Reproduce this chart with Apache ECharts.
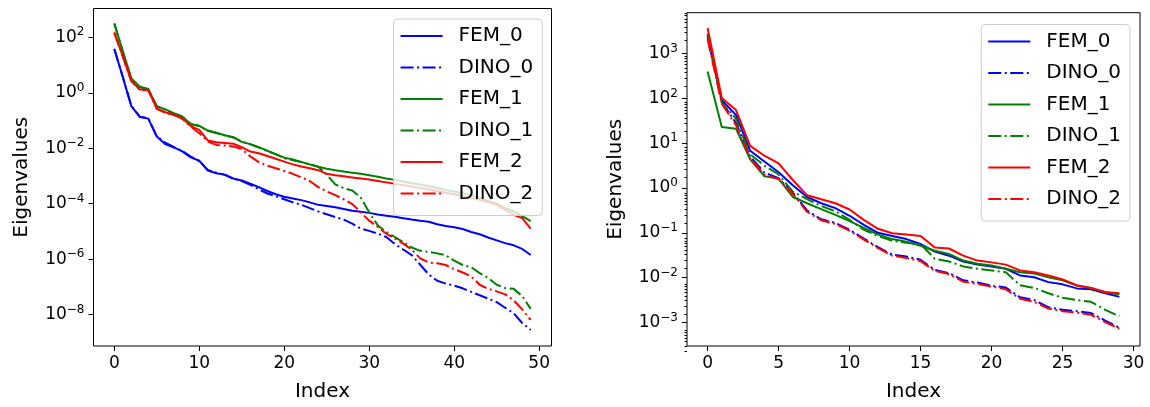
<!DOCTYPE html>
<html><head><meta charset="utf-8">
<script src="https://cdn.jsdelivr.net/npm/echarts@6/dist/echarts.min.js"></script>
<style>html,body{margin:0;padding:0;background:#fff}#c{width:1150px;height:407px}</style>
</head><body><div id="c"></div>
<script>
// ---------- data (left panel, index 0..49) ----------
const L_FEM_0 = [39, 3.63, 0.331, 0.135, 0.117, 2.63e-2, 1.41e-2, 1.07e-2, 7.76e-3, 4.68e-3,
  3.55e-3, 1.58e-3, 1.26e-3, 1.12e-3, 8.13e-4, 6.92e-4, 5.25e-4, 3.98e-4, 2.88e-4, 2.19e-4,
  1.78e-4, 1.55e-4, 1.35e-4, 1.12e-4, 9.12e-5, 8.32e-5, 7.41e-5, 6.46e-5, 5.62e-5, 5.13e-5,
  4.68e-5, 4.07e-5, 3.72e-5, 3.39e-5, 3.02e-5, 2.69e-5, 2.45e-5, 2.24e-5, 1.82e-5, 1.58e-5,
  1.41e-5, 1.23e-5, 9.55e-6, 7.94e-6, 6.03e-6, 4.79e-6, 3.80e-6, 3.16e-6, 2.34e-6, 1.41e-6];
const L_DINO_0 = [37.2, 3.80, 0.339, 0.138, 0.120, 2.69e-2, 1.58e-2, 1.12e-2, 7.94e-3, 5.01e-3,
  3.47e-3, 1.66e-3, 1.32e-3, 1.10e-3, 7.94e-4, 6.61e-4, 4.79e-4, 3.31e-4, 2.34e-4, 1.86e-4,
  1.45e-4, 1.12e-4, 9.12e-5, 6.92e-5, 5.25e-5, 4.17e-5, 3.31e-5, 2.69e-5, 1.91e-5, 1.26e-5,
  1.05e-5, 8.32e-6, 6.31e-6, 3.55e-6, 2.24e-6, 1.41e-6, 6.31e-7, 2.82e-7, 1.66e-7, 1.32e-7,
  1.12e-7, 8.91e-8, 6.61e-8, 5.01e-8, 3.80e-8, 2.82e-8, 1.78e-8, 1.12e-8, 5.01e-9, 2.82e-9];
const L_FEM_1 = [324, 31.6, 3.31, 1.66, 1.38, 0.331, 0.251, 0.186, 0.141, 7.24e-2,
  6.46e-2, 4.37e-2, 3.63e-2, 2.95e-2, 2.51e-2, 1.70e-2, 1.41e-2, 1.10e-2, 8.13e-3, 6.17e-3,
  4.57e-3, 3.98e-3, 3.24e-3, 2.63e-3, 2.14e-3, 1.82e-3, 1.62e-3, 1.45e-3, 1.32e-3, 1.20e-3,
  1.07e-3, 9.33e-4, 8.13e-4, 7.24e-4, 6.31e-4, 5.50e-4, 4.90e-4, 4.27e-4, 3.72e-4, 3.16e-4,
  2.75e-4, 2.40e-4, 2.04e-4, 1.62e-4, 1.26e-4, 1.00e-4, 7.08e-5, 5.25e-5, 3.55e-5, 2.34e-5];
const L_DINO_1 = [309, 30.2, 3.16, 1.58, 1.35, 0.324, 0.245, 0.178, 0.138, 7.59e-2,
  6.31e-2, 4.27e-2, 3.55e-2, 2.88e-2, 2.45e-2, 1.74e-2, 1.38e-2, 1.07e-2, 7.94e-3, 6.03e-3,
  4.37e-3, 3.72e-3, 3.16e-3, 2.63e-3, 2.14e-3, 1.12e-3, 5.01e-4, 3.63e-4, 3.02e-4, 1.66e-4,
  4.90e-5, 1.66e-5, 9.55e-6, 6.31e-6, 4.17e-6, 2.63e-6, 2.00e-6, 1.82e-6, 1.62e-6, 1.38e-6,
  8.91e-7, 6.17e-7, 5.13e-7, 3.16e-7, 2.09e-7, 1.20e-7, 9.12e-8, 8.51e-8, 4.68e-8, 1.62e-8];
const L_FEM_2 = [151, 20.9, 2.69, 1.32, 1.26, 0.269, 0.200, 0.158, 0.120, 6.31e-2,
  4.57e-2, 1.91e-2, 1.66e-2, 1.55e-2, 1.45e-2, 1.10e-2, 7.59e-3, 6.61e-3, 5.25e-3, 4.17e-3,
  3.31e-3, 2.63e-3, 2.19e-3, 1.91e-3, 1.62e-3, 1.20e-3, 1.07e-3, 9.77e-4, 8.91e-4, 8.13e-4,
  7.41e-4, 6.61e-4, 5.89e-4, 5.25e-4, 4.68e-4, 4.17e-4, 3.72e-4, 3.31e-4, 2.88e-4, 2.51e-4,
  2.19e-4, 1.91e-4, 1.62e-4, 1.38e-4, 1.15e-4, 9.12e-5, 6.03e-5, 3.98e-5, 3.02e-5, 1.26e-5];
const L_DINO_2 = [145, 20.0, 2.63, 1.29, 1.23, 0.263, 0.191, 0.166, 0.115, 6.03e-2,
  3.47e-2, 1.74e-2, 1.32e-2, 1.26e-2, 1.15e-2, 9.33e-3, 5.13e-3, 3.16e-3, 2.34e-3, 1.91e-3,
  1.51e-3, 1.20e-3, 8.91e-4, 6.61e-4, 3.98e-4, 2.75e-4, 2.04e-4, 1.45e-4, 9.77e-5, 4.90e-5,
  2.45e-5, 1.45e-5, 8.32e-6, 5.50e-6, 3.63e-6, 2.24e-6, 1.07e-6, 7.59e-7, 7.08e-7, 6.17e-7,
  4.37e-7, 3.31e-7, 2.40e-7, 1.20e-7, 8.51e-8, 6.92e-8, 5.37e-8, 3.31e-8, 1.55e-8, 6.46e-9];

// ---------- data (right panel, index 0..29) ----------
const R_FEM_0 = [2630, 91.2, 42.7, 6.76, 3.89, 2.24, 1.15, 0.631, 0.457, 0.355,
  0.240, 0.151, 0.100, 8.51e-2, 7.24e-2, 5.62e-2, 3.80e-2, 3.09e-2, 2.29e-2, 1.95e-2,
  1.78e-2, 1.58e-2, 1.12e-2, 1.02e-2, 7.94e-3, 7.08e-3, 5.75e-3, 5.50e-3, 4.47e-3, 3.72e-3];
const R_DINO_0 = [2400, 83.2, 28.2, 5.01, 2.19, 1.66, 0.794, 0.316, 0.200, 0.166,
  0.117, 7.41e-2, 4.79e-2, 3.24e-2, 2.95e-2, 2.51e-2, 1.48e-2, 1.26e-2, 8.71e-3, 7.76e-3,
  6.61e-3, 6.03e-3, 3.63e-3, 3.16e-3, 2.19e-3, 1.91e-3, 1.78e-3, 1.62e-3, 1.10e-3, 7.59e-4];
const R_FEM_1 = [398, 22.9, 20.9, 4.37, 1.82, 1.62, 0.631, 0.457, 0.339, 0.251,
  0.182, 0.129, 9.12e-2, 7.24e-2, 6.31e-2, 5.13e-2, 3.98e-2, 3.39e-2, 2.40e-2, 2.04e-2,
  1.86e-2, 1.58e-2, 1.32e-2, 1.23e-2, 1.02e-2, 8.71e-3, 6.61e-3, 5.89e-3, 4.68e-3, 4.27e-3];
const R_DINO_1 = [2820, 79.4, 35.5, 5.62, 3.16, 2.00, 0.832, 0.562, 0.398, 0.302,
  0.195, 0.117, 8.51e-2, 6.61e-2, 6.03e-2, 5.62e-2, 2.63e-2, 2.29e-2, 1.78e-2, 1.58e-2,
  1.45e-2, 1.32e-2, 6.76e-3, 5.89e-3, 4.47e-3, 3.55e-3, 3.16e-3, 2.88e-3, 1.91e-3, 1.38e-3];
const R_FEM_2 = [3720, 102, 55.0, 8.71, 5.25, 3.55, 1.51, 0.692, 0.562, 0.457,
  0.331, 0.195, 0.123, 9.77e-2, 9.12e-2, 8.51e-2, 4.68e-2, 4.47e-2, 3.09e-2, 2.40e-2,
  2.19e-2, 1.95e-2, 1.45e-2, 1.32e-2, 1.12e-2, 9.12e-3, 6.76e-3, 5.89e-3, 4.79e-3, 4.47e-3];
const R_DINO_2 = [2090, 75.9, 25.1, 4.57, 2.00, 1.58, 0.741, 0.295, 0.191, 0.158,
  0.112, 7.08e-2, 4.57e-2, 3.09e-2, 2.75e-2, 2.34e-2, 1.41e-2, 1.20e-2, 8.13e-3, 7.24e-3,
  6.31e-3, 5.50e-3, 3.39e-3, 2.88e-3, 2.04e-3, 1.78e-3, 1.66e-3, 1.48e-3, 1.02e-3, 7.24e-4];

// ---------- ticks ----------
const L_XTICKS = [0, 10, 20, 30, 40, 50];
const R_XTICKS = [0, 5, 10, 15, 20, 25, 30];
const L_YTICKS = [1e-8, 1e-6, 1e-4, 1e-2, 1, 1e2];
const R_YTICKS = [1e-3, 1e-2, 1e-1, 1, 1e1, 1e2, 1e3];
const SERIES_NAMES = ['FEM_0', 'DINO_0', 'FEM_1', 'DINO_1', 'FEM_2', 'DINO_2'];
const LEFT_SETS = [L_FEM_0, L_DINO_0, L_FEM_1, L_DINO_1, L_FEM_2, L_DINO_2];
const RIGHT_SETS = [R_FEM_0, R_DINO_0, R_FEM_1, R_DINO_1, R_FEM_2, R_DINO_2];

// ---------- styling ----------
const FONT = 'DejaVu Sans';
const COLORS = ['#0000ff', '#0000ff', '#008000', '#008000', '#ff0000', '#ff0000'];
const DASHDOT = [13, 3.5, 2, 3.5];
const L_YMIN = 7.41e-10, L_YMAX = 1096;
const R_YMIN = 2.98e-4, R_YMAX = 8166;

const R_MINOR = [];
for (let e = -4; e <= 3; e++) for (let m = 2; m <= 9; m++) {
  const v = m * Math.pow(10, e);
  if (v >= R_YMIN && v <= R_YMAX) R_MINOR.push(v);
}

function supFmt(v) {
  const e = Math.round(Math.log10(v));
  return '{b|10}{s|' + (e < 0 ? '\u2212' : '') + Math.abs(e) + '}';
}
const RICH = {
  b: { fontSize: 17, fontFamily: FONT, color: '#000', lineHeight: 22 },
  s: { fontSize: 12, fontFamily: FONT, color: '#000', lineHeight: 13, verticalAlign: 'top' }
};

function xAxisCfg(gi, min, max, ticks) {
  return {
    gridIndex: gi, type: 'value', min: min, max: max,
    axisLine: { show: false, onZero: false }, splitLine: { show: false },
    axisTick: { customValues: ticks, length: 5, lineStyle: { color: '#000', width: 1 } },
    axisLabel: { customValues: ticks, margin: 9, fontSize: 17, fontFamily: FONT, color: '#000' },
    name: 'Index', nameLocation: 'middle', nameGap: 36,
    nameTextStyle: { fontSize: 20, fontFamily: FONT, color: '#000' }
  };
}
function yAxisCfg(gi, min, max, ticks, gap) {
  return {
    gridIndex: gi, type: 'log', logBase: 10, min: min, max: max,
    axisLine: { show: false, onZero: false }, splitLine: { show: false },
    axisTick: { customValues: ticks, length: 5, lineStyle: { color: '#000', width: 1 } },
    axisLabel: { customValues: ticks, margin: 9, formatter: supFmt, rich: RICH },
    name: 'Eigenvalues', nameLocation: 'middle', nameGap: gap, nameRotate: 90,
    nameTextStyle: { fontSize: 20, fontFamily: FONT, color: '#000' }
  };
}

function makeSeries(sets, xi, yi) {
  return sets.map((arr, k) => ({
    name: SERIES_NAMES[k], type: 'line', xAxisIndex: xi, yAxisIndex: yi,
    data: arr.map((v, i) => [i, v]),
    symbol: 'none', showSymbol: false, smooth: false,
    lineStyle: { color: COLORS[k], width: 2, type: k % 2 === 1 ? DASHDOT : 'solid' },
    itemStyle: { color: COLORS[k] },
    emphasis: { disabled: true }, animation: false, z: 2
  }));
}

function legendCfg(right, top) {
  return {
    data: SERIES_NAMES, orient: 'vertical', right: right, top: top,
    itemWidth: 42, itemHeight: 14, itemGap: 11.5,
    padding: [7, 9, 12, 6],
    backgroundColor: 'rgba(255,255,255,0.8)', borderColor: '#cccccc', borderWidth: 1, borderRadius: 4,
    itemStyle: { opacity: 0, borderWidth: 0 },
    textStyle: { fontSize: 20, fontFamily: FONT, color: '#000', padding: [0, 0, 0, 11] },
    selectedMode: false, z: 10
  };
}

const chart = echarts.init(document.getElementById('c'), null, { renderer: 'canvas' });
chart.setOption({
  animation: false,
  backgroundColor: '#fff',
  grid: [
    { left: 93.5, top: 8.5, width: 458, height: 341.5, show: true, borderColor: '#000', borderWidth: 1, backgroundColor: 'transparent' },
    { left: 687, top: 12.7, width: 453, height: 339, show: true, borderColor: '#000', borderWidth: 1, backgroundColor: 'transparent' },
    { left: 687, top: 12.7, width: 453, height: 339, show: false }
  ],
  xAxis: [
    xAxisCfg(0, -2.45, 51.45, L_XTICKS),
    xAxisCfg(1, -1.45, 30.45, R_XTICKS),
    { gridIndex: 2, type: 'value', min: -1.45, max: 30.45, show: false }
  ],
  yAxis: [
    yAxisCfg(0, L_YMIN, L_YMAX, L_YTICKS, 62),
    yAxisCfg(1, R_YMIN, R_YMAX, R_YTICKS, 61),
    { gridIndex: 2, type: 'log', min: R_YMIN, max: R_YMAX,
      axisLine: { show: false, onZero: false }, splitLine: { show: false }, axisLabel: { show: false },
      axisTick: { customValues: R_MINOR, length: 2.5, lineStyle: { color: '#000', width: 1 } } }
  ],
  legend: [legendCfg(607.7, 19), legendCfg(20, 24.5)],
  series: makeSeries(LEFT_SETS, 0, 0).concat(makeSeries(RIGHT_SETS, 1, 1))
});
</script></body></html>
